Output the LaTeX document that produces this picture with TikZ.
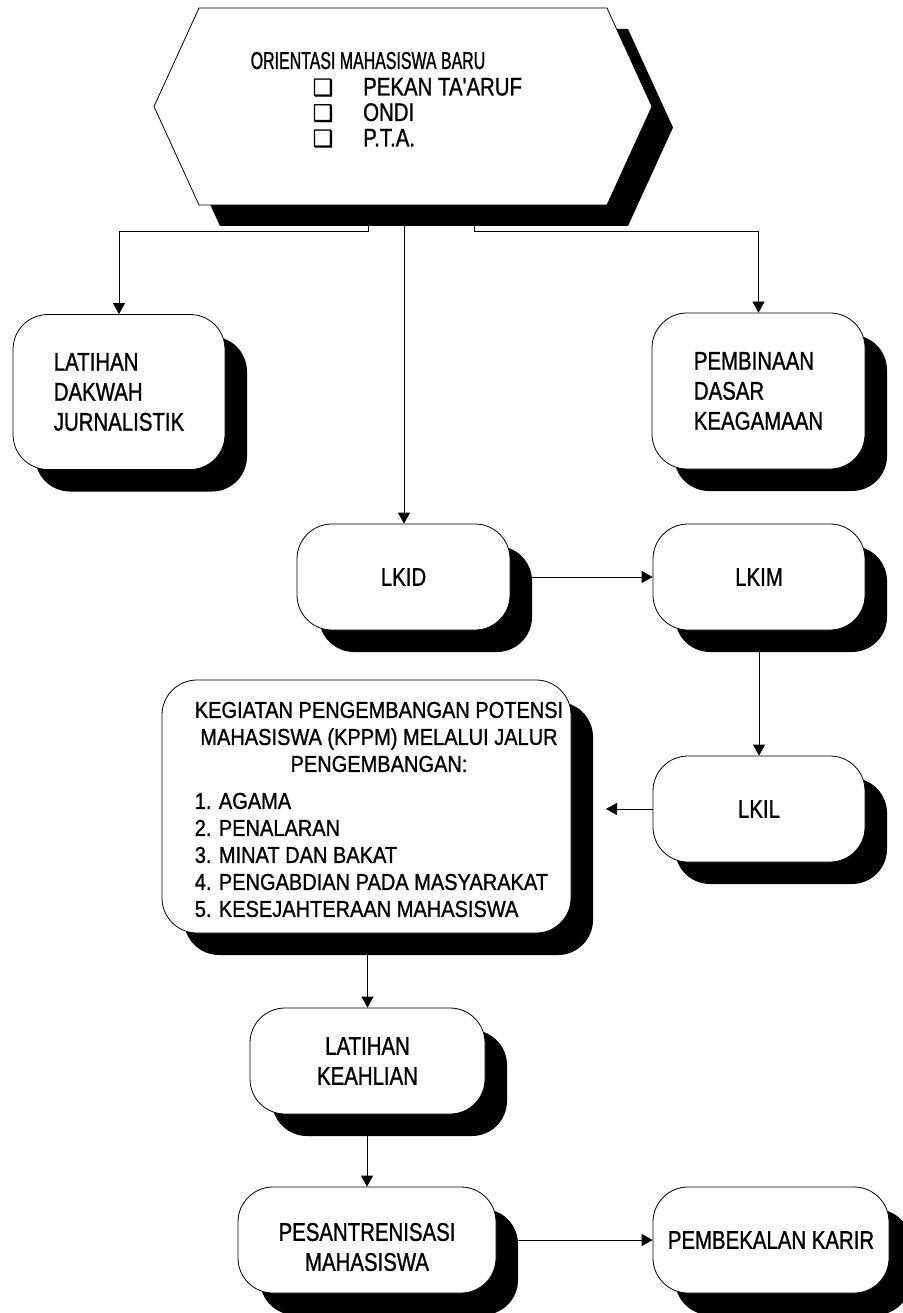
\documentclass[tikz,border=0pt]{standalone}
\usepackage{fontspec}
\setmainfont[FakeStretch=0.8,FakeBold=1,Ligatures=TeXOff]{Liberation Sans}
\newfontfamily\titlefont[FakeStretch=0.65,FakeBold=1,Ligatures=TeXOff]{Liberation Sans}
\newfontfamily\kppmfont[FakeStretch=0.87,FakeBold=1,Ligatures=TeXOff]{Liberation Sans}
\newfontfamily\symfont[FakeBold=1]{DejaVu Sans}
\usetikzlibrary{shadows,arrows.meta}
\pgfdeclarelayer{bg}
\pgfsetlayers{bg,main}
\begin{document}
\begin{tikzpicture}[x=1pt,y=-1pt,
  box/.style={draw=black, line width=0.8pt, fill=white, rounded corners=35pt, inner sep=0pt,
    font=\fontsize{25.5}{30}\selectfont,
    drop shadow={shadow xshift=22pt, shadow yshift=-22pt, fill=black, opacity=1}},
  conn/.style={line width=0.8pt, -{Triangle[length=11pt,width=12pt]}},
  txt/.style={inner sep=0pt, font=\fontsize{25.5}{30}\selectfont},
  bul/.style={inner sep=0pt, font=\symfont\fontsize{23}{26}\selectfont}
]
\useasboundingbox (0,0) rectangle (902,1313);

% hexagon with shadow
\fill[black, shift={(21,21)}] (199,8) -- (607,8) -- (652,106.5) -- (607,205) -- (199,205) -- (154,106.5) -- cycle;
\filldraw[fill=white, draw=black, line width=0.8pt] (199,8) -- (607,8) -- (652,106.5) -- (607,205) -- (199,205) -- (154,106.5) -- cycle;
\coordinate (hl) at (368,205);
\coordinate (hc) at (404,205);
\coordinate (hr) at (474,205);

\node[inner sep=0pt, anchor=base, font=\titlefont\fontsize{24.5}{26}\selectfont] (title) at (368,69) {ORIENTASI MAHASISWA BARU};
\node[bul, anchor=base] (b1) at (323,95.5) {❑};
\node[bul, anchor=base] (b2) at (323,121) {❑};
\node[bul, anchor=base] (b3) at (323,146.5) {❑};
\node[txt, anchor=base west] (t1) at (363,95.5) {PEKAN TA'ARUF};
\node[txt, anchor=base west] (t2) at (363,121) {ONDI};
\node[txt, anchor=base west] (t3) at (363,146.5) {P.T.A.};

% boxes
\node[box, minimum width=212pt, minimum height=155pt, align=left] (ld) at (119,392) {LATIHAN\\DAKWAH\\JURNALISTIK};
\node[box, minimum width=213pt, minimum height=156pt, align=left] (pd) at (758.5,391) {PEMBINAAN\\DASAR\\KEAGAMAAN};
\node[box, minimum width=213pt, minimum height=106pt] (lkid) at (403.5,577) {LKID};
\node[box, minimum width=212pt, minimum height=106pt] (lkim) at (759,577) {LKIM};
\node[box, minimum width=212pt, minimum height=106pt] (lkil) at (759,809) {LKIL};
\node[box, minimum width=409pt, minimum height=253pt] (kppm) at (366.5,806.5) {};
\node[inner sep=0pt, font=\kppmfont\fontsize{23}{27}\selectfont] (kppmtext) at (379,812) {%
  \begin{tabular}{@{}l@{}}
  \multicolumn{1}{@{}c@{}}{KEGIATAN PENGEMBANGAN POTENSI}\\
  \multicolumn{1}{@{}c@{}}{MAHASISWA (KPPM) MELALUI JALUR}\\
  \multicolumn{1}{@{}c@{}}{PENGEMBANGAN:}\\[10pt]
  1. AGAMA\\
  2. PENALARAN\\
  3. MINAT DAN BAKAT\\
  4. PENGABDIAN PADA MASYARAKAT\\
  5. KESEJAHTERAAN MAHASISWA
  \end{tabular}};
\node[box, minimum width=235pt, minimum height=106pt, align=center] (lk) at (367.5,1061) {LATIHAN\\KEAHLIAN};
\node[box, minimum width=258pt, minimum height=106pt] (ps) at (367,1240) {};
\node[txt, align=center] (pstext) at (367,1247) {PESANTRENISASI\\MAHASISWA};
\node[box, minimum width=236pt, minimum height=106pt] (pk) at (771,1240) {PEMBEKALAN KARIR};
\coordinate (kin) at (606,809);

\begin{pgfonlayer}{bg}
\draw[conn] (hl) -- ++(0,26) -| (ld.north);
\draw[conn] (hr) -- ++(0,26) -| (pd.north);
\draw[conn] (hc) -- (hc |- lkid.north);
\draw[conn] (lkid.east) -- (lkim.west);
\draw[conn] (lkim.south) -- (lkil.north);
\draw[conn] (lkil.west) -- (kin);
\draw[conn] (kppm.south -| lk.north) -- (lk.north);
\draw[conn] (lk.south -| ps.north) -- (ps.north);
\draw[conn] (ps.east) -- (ps.east -| pk.west);
\end{pgfonlayer}
\end{tikzpicture}
\end{document}
